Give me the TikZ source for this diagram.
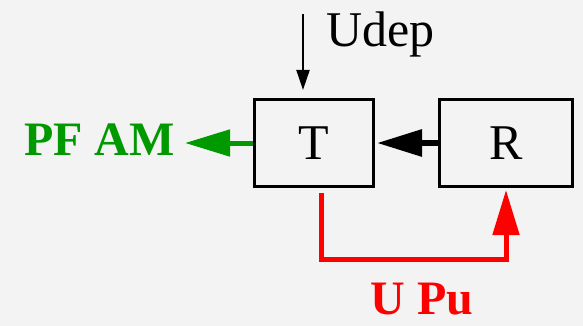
\documentclass[tikz,border=0pt]{standalone}
\usepackage{fontspec}
\setmainfont{Liberation Serif}
\usetikzlibrary{arrows.meta}
\definecolor{bgcol}{RGB}{242,243,242}
\definecolor{pfgreen}{RGB}{0,153,0}
\definecolor{pured}{RGB}{255,0,0}

\begin{document}
\begin{tikzpicture}[x=1pt,y=-1pt,
    block/.style={draw,line width=3pt,inner sep=0pt,minimum height=87pt,
      font=\fontsize{50}{60}\selectfont},
    plain/.style={inner sep=0pt,font=\fontsize{50}{60}\selectfont},
    boldlab/.style={inner sep=0pt,font=\fontsize{48}{58}\selectfont\bfseries},
    bigtip/.style={-{Triangle[length=45pt,width=26pt]}}]
  \fill[bgcol] (0,0) rectangle (583,326);
  \useasboundingbox (0,0) rectangle (583,326);
  % blocks
  \node [block,minimum width=119pt] (T) at (314,143) {T};
  \node [block,minimum width=133pt] (R) at (506,143) {R};
  % labels
  \node [plain,anchor=base west] (udep) at (326,47) {Udep};
  \node [boldlab,text=pfgreen,anchor=base east] (pfam) at (175,155) {PF AM};
  \node [boldlab,text=pured,anchor=base] (upu) at (422,314) {U Pu};
  \coordinate (udeptop) at (303,14);
  \coordinate (loop) at (321,259);
  % connectors
  \draw [line width=2pt,-{Triangle[length=20pt,width=13pt]},shorten >=8pt]
    (udeptop) -- (udeptop |- T.north);
  \draw [bigtip,line width=6pt,shorten >=2pt] (R.west) -- (T.east);
  \draw [bigtip,pfgreen,line width=5pt,shorten >=10pt] (T.west) -- (T.west -| pfam.east);
  \draw [bigtip,pured,line width=5pt,shorten >=2pt]
    (loop |- T.south) ++(0,5) -- (loop) -| (R.south);
\end{tikzpicture}
\end{document}
